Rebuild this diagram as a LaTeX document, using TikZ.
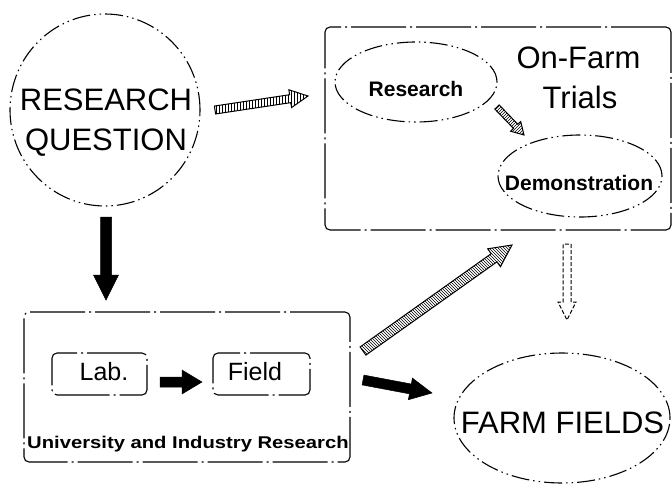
\documentclass[tikz,border=0pt]{standalone}
\usepackage{fontspec}
\setmainfont{Liberation Sans}
\usepackage{graphicx}
\usetikzlibrary{calc,shapes.geometric,patterns}
\tikzset{
  brk/.style={line width=1.1pt, dash pattern=on 18pt off 4pt on 1.5pt off 4pt on 1.5pt off 4pt},
  brkbox/.style={line width=1.1pt, dash pattern=on 55pt off 4pt on 2pt off 4pt},
  oval/.style={ellipse, draw, brk, inner sep=0pt},
  rbox/.style={draw, brkbox, rounded corners=5pt, inner sep=0pt},
  txt/.style={anchor=base, inner sep=0pt},
  big/.style={font=\fontsize{31}{31}\selectfont},
  mid/.style={font=\fontsize{21}{21}\selectfont\bfseries},
  labf/.style={font=\fontsize{25}{25}\selectfont},
  solidarrow/.style={fill=black, draw=black, line width=0.5pt},
  hatcharrow/.style={draw, line width=1pt, line join=miter},
  dasharrow/.style={draw, line width=1pt, dash pattern=on 4pt off 2pt},
}
% #1 style, #2 from, #3 to, #4 shaft half width, #5 head half width, #6 head length
\newcommand\fatarrow[6]{%
  \coordinate (fa-h) at ($(#3)!#6!(#2)$);
  \path[#1] ($(#2)!#4!90:(#3)$) -- ($(fa-h)!#4!-90:(#2)$) -- ($(fa-h)!#5!-90:(#2)$)
    -- (#3) -- ($(fa-h)!#5!90:(#2)$) -- ($(fa-h)!#4!90:(#2)$)
    -- ($(#2)!#4!-90:(#3)$) -- cycle;}
\begin{document}
\begin{tikzpicture}[x=1pt,y=-1pt]
\useasboundingbox (0,0) rectangle (672,485);
% Research question
\node[oval, minimum width=190pt, minimum height=192pt] (rq) at (105,110) {};
\node[txt, big] (rq1) at (106,110) {RESEARCH};
\node[txt, big] (rq2) at (106,150) {QUESTION};
% On-farm trials
\node[rbox, minimum width=346pt, minimum height=203pt] (ofbox) at (498,128.5) {};
\node[txt, big] (of1) at (578.5,68) {On-Farm};
\node[txt, big] (of2) at (580,108) {Trials};
\node[oval, minimum width=162pt, minimum height=80pt] (rs) at (416,82) {};
\node[txt, mid] (rst) at (416,96) {Research};
\node[oval, minimum width=164pt, minimum height=82pt] (dm) at (580,176) {};
\node[txt, mid] (dmt) at (579,190) {Demonstration};
% University and industry research
\node[rbox, minimum width=326pt, minimum height=150pt] (ubox) at (187,387) {};
\node[rbox, minimum width=95pt, minimum height=42pt] (lab) at (99.5,374) {};
\node[txt, labf] (labt) at (104,380) {Lab.};
\node[rbox, minimum width=97pt, minimum height=42pt] (fld) at (261.5,374) {};
\node[txt, labf] (fldt) at (255,380) {Field};
\node[txt, anchor=base west] (ut) at (27,448)
  {\scalebox{1.19}[1]{\fontsize{17}{17}\selectfont\bfseries University and Industry Research}};
% Farm fields
\node[oval, minimum width=216pt, minimum height=130pt] (ff) at (562,418) {};
\node[txt, big] (fft) at (562.5,433) {FARM FIELDS};
% arrow end points
\coordinate (a1s) at (215,110); \coordinate (a1e) at (308,96);
\coordinate (a2s) at (497,107); \coordinate (a2e) at (524,135);
\coordinate (a3s) at (106,217); \coordinate (a3e) at (106,300);
\coordinate (a4s) at (160,382); \coordinate (a4e) at (202,382);
\coordinate (a5s) at (363,380); \coordinate (a5e) at (432,393);
\coordinate (a6s) at (363,351); \coordinate (a6e) at (512,245);
\coordinate (a7s) at (567,244); \coordinate (a7e) at (567,320);
% arrows
\fatarrow{hatcharrow, pattern=vertical lines}{a1s}{a1e}{4pt}{9pt}{18pt}
\fatarrow{hatcharrow, pattern=north east lines}{a2s}{a2e}{3pt}{7pt}{12pt}
\fatarrow{solidarrow}{a3s}{a3e}{5.5pt}{12.5pt}{25pt}
\fatarrow{solidarrow}{a4s}{a4e}{5pt}{12pt}{20pt}
\fatarrow{solidarrow}{a5s}{a5e}{5pt}{11pt}{22pt}
\fatarrow{hatcharrow, pattern=north west lines}{a6s}{a6e}{5pt}{11pt}{22pt}
\fatarrow{dasharrow}{a7s}{a7e}{4pt}{9pt}{18pt}
\end{tikzpicture}
\end{document}
